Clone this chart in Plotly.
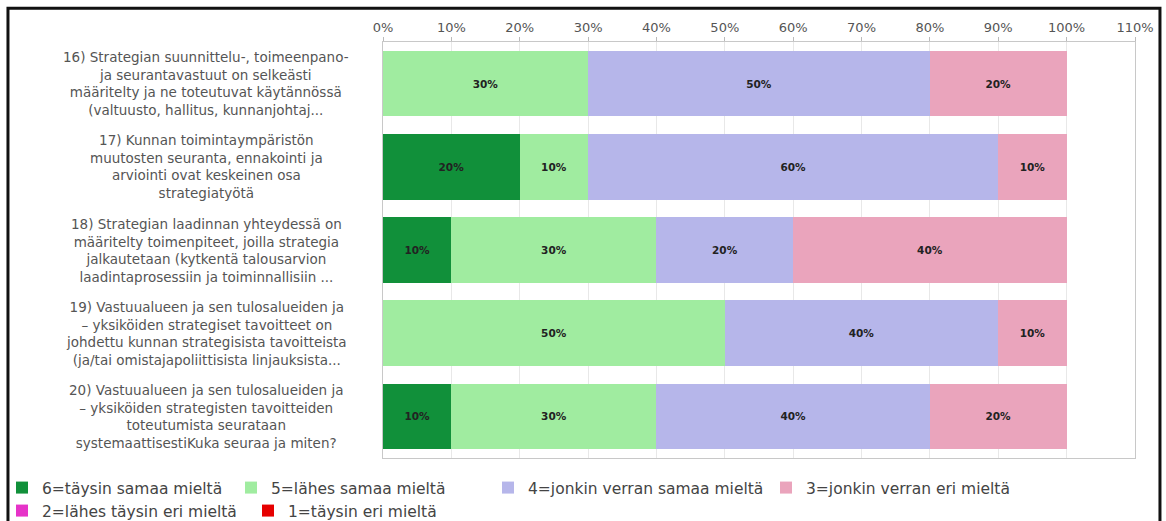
import plotly.graph_objects as go

# Survey statements (rows, top to bottom)
categories = [
    "16) Strategian suunnittelu-, toimeenpano-<br>ja seurantavastuut on selkeästi<br>määritelty ja ne toteutuvat käytännössä<br>(valtuusto, hallitus, kunnanjohtaj...",
    "17) Kunnan toimintaympäristön<br>muutosten seuranta, ennakointi ja<br>arviointi ovat keskeinen osa<br>strategiatyötä",
    "18) Strategian laadinnan yhteydessä on<br>määritelty toimenpiteet, joilla strategia<br>jalkautetaan (kytkentä talousarvion<br>laadintaprosessiin ja toiminnallisiin ...",
    "19) Vastuualueen ja sen tulosalueiden ja<br>– yksiköiden strategiset tavoitteet on<br>johdettu kunnan strategisista tavoitteista<br>(ja/tai omistajapoliittisista linjauksista...",
    "20) Vastuualueen ja sen tulosalueiden ja<br>– yksiköiden strategisten tavoitteiden<br>toteutumista seurataan<br>systemaattisestiKuka seuraa ja miten?",
]
row_ids = ["q16", "q17", "q18", "q19", "q20"]

# Answer shares (%) per scale point
series_names = [
    "6=täysin samaa mieltä",
    "5=lähes samaa mieltä",
    "4=jonkin verran samaa mieltä",
    "3=jonkin verran eri mieltä",
    "2=lähes täysin eri mieltä",
    "1=täysin eri mieltä",
]
s6 = [0, 20, 10, 0, 10]
s5 = [30, 10, 30, 50, 30]
s4 = [50, 60, 20, 40, 40]
s3 = [20, 10, 40, 10, 20]
s2 = [0, 0, 0, 0, 0]
s1 = [0, 0, 0, 0, 0]
series_values = [s6, s5, s4, s3, s2, s1]
series_colors = ["#11903a", "#a0eca0", "#b6b6ea", "#eaa4bc", "#e633c8", "#e60000"]

# Each legend entry gets its own legend box: (left edge px, row centre px)
legend_ids = ["legend", "legend2", "legend3", "legend4", "legend5", "legend6"]
legend_left_px = [2, 231, 488, 766, 2, 248]
legend_row_px = [488, 488, 488, 488, 511, 511]

x_ticks = list(range(0, 111, 10))

W, H = 1166, 521
FONT = "DejaVu Sans"

fig = go.Figure()
for name, vals, col, lg in zip(series_names, series_values, series_colors, legend_ids):
    fig.add_trace(go.Bar(
        y=row_ids,
        x=vals,
        name=name,
        legend=lg,
        orientation="h",
        marker=dict(color=col, line=dict(width=0)),
        text=[f"{v}%" if v else "" for v in vals],
        textposition="inside",
        insidetextanchor="middle",
        constraintext="none",
        textfont=dict(family=FONT, size=10.5, color="#222222", weight="bold"),
        hoverinfo="skip",
    ))

# Row labels, centred in the left margin
for rid, label in zip(row_ids, categories):
    fig.add_annotation(
        x=-0.235, xref="paper", y=rid, yref="y",
        text=label, showarrow=False, xanchor="center", yanchor="middle",
        align="center", font=dict(family=FONT, size=13.5, color="#555555"),
    )

# Dark frame around the whole chart
fig.add_shape(
    type="rect", xref="paper", yref="paper",
    x0=-0.4987, x1=1.0332, y0=-0.2, y1=1.0811,
    line=dict(color="#111111", width=3), fillcolor="rgba(0,0,0,0)", layer="above",
)

legend_layouts = {}
for lg, lx, ly in zip(legend_ids, legend_left_px, legend_row_px):
    legend_layouts[lg] = dict(
        orientation="h",
        xref="container", yref="container",
        x=lx / W, y=1 - ly / H,
        xanchor="left", yanchor="middle",
        font=dict(family=FONT, size=15.5, color="#444444"),
        bgcolor="rgba(0,0,0,0)",
        itemclick=False,
    )

fig.update_layout(
    width=W, height=H,
    barmode="stack",
    bargap=0.21,
    paper_bgcolor="white",
    plot_bgcolor="white",
    margin=dict(l=383, r=31, t=42, b=60),
    font=dict(family=FONT, color="#555555"),
    showlegend=True,
    xaxis=dict(
        side="top",
        range=[0, 110],
        tickvals=x_ticks,
        ticktext=[f"{t}%" for t in x_ticks],
        ticks="outside", ticklen=4, tickcolor="#bbbbbb",
        showgrid=True, gridcolor="#e8e8e8", gridwidth=1,
        showline=True, mirror=True, linecolor="#c8c8c8", linewidth=1,
        zeroline=False,
        tickfont=dict(family=FONT, size=13, color="#555555"),
        fixedrange=True,
    ),
    yaxis=dict(
        autorange="reversed",
        showticklabels=False,
        showgrid=False,
        showline=True, mirror=True, linecolor="#c8c8c8", linewidth=1,
        ticks="",
        fixedrange=True,
    ),
    **legend_layouts,
)

fig.write_html("out.html")
